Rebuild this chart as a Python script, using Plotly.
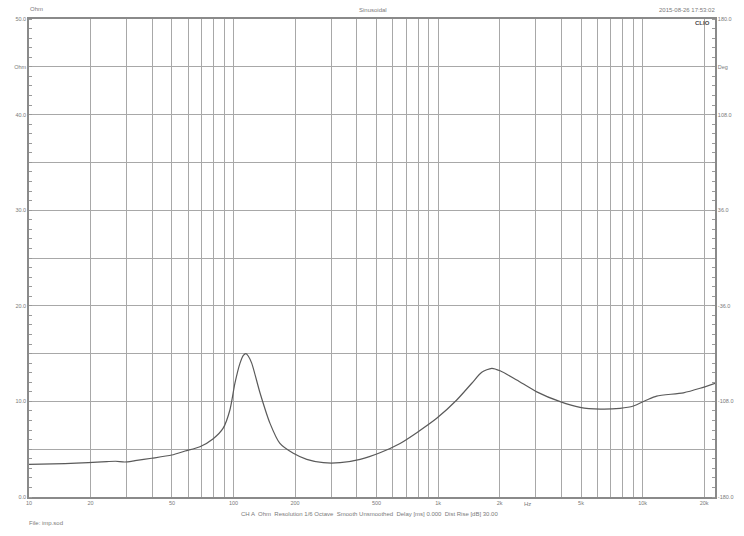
import plotly.graph_objects as go
import math

# ---- data ----
freq_hz = [10, 15, 19.5, 24, 26.5, 29.4, 33, 39.8, 49.9, 58, 68.5, 79.6, 89, 96,
           101.6, 107.6, 111.7, 115, 118, 122.7, 134.9, 150.8, 168.6, 196, 228,
           275, 332, 416, 520, 652, 787, 985, 1234, 1462, 1636, 1832, 2011, 2425,
           3039, 3955, 4947, 6195, 7757, 9021, 10480, 11720, 15840, 19110, 22640]
impedance_ohm = [3.42, 3.5, 3.59, 3.7, 3.74, 3.66, 3.8, 4.05, 4.39, 4.81, 5.26, 6.1,
                 7.2, 9.1, 11.9, 14.0, 14.82, 15.0, 14.75, 14.0, 10.85, 7.7, 5.6,
                 4.57, 3.94, 3.59, 3.59, 3.94, 4.63, 5.6, 6.73, 8.23, 10.15, 11.9,
                 13.04, 13.46, 13.2, 12.24, 11.0, 9.97, 9.38, 9.2, 9.28, 9.52,
                 10.15, 10.56, 10.9, 11.37, 11.9]

x_grid_vals = [10, 20, 30, 40, 50, 60, 70, 80, 90,
               100, 200, 300, 400, 500, 600, 700, 800, 900,
               1000, 2000, 3000, 4000, 5000, 6000, 7000, 8000, 9000,
               10000, 20000]
x_grid_text = ["10", "20", "", "", "50", "", "", "", "",
               "100", "200", "", "", "500", "", "", "", "",
               "1k", "2k", "", "", "5k", "", "", "", "",
               "10k", "20k"]

y_left_vals = [0, 5, 10, 15, 20, 25, 30, 35, 40, 45, 50]
y_left_text = ["0.0", "", "10.0", "", "20.0", "", "30.0", "", "40.0", "Ohm", "50.0"]

y_right_vals = [-180, -144, -108, -72, -36, 0, 36, 72, 108, 144, 180]
y_right_text = ["-180.0", "", "-108.0", "", "-36.0", "", "36.0", "", "108.0", "Deg", "180.0"]

x_range_hz = [10, 22600]

header_left = "Ohm"
header_mid = "Sinusoidal"
header_right = "2015-08-26 17:53:02"
footer_info = ("CH A  Ohm  Resolution 1/6 Octave  Smooth Unsmoothed  "
               "Delay [ms] 0.000  Dist Rise [dB] 30.00")
footer_file = "File: imp.sod"

# ---- style ----
TXT = "#7a7a7a"
GRID = "#a8a8a8"
FONT = "Liberation Sans, Arial, sans-serif"

fig = go.Figure()
fig.add_trace(go.Scatter(
    x=freq_hz, y=impedance_ohm, mode="lines",
    line=dict(color="#5a5a5a", width=1.2, shape="spline", smoothing=0.7),
    hoverinfo="x+y", showlegend=False))
# empty trace to register the phase (right) axis
fig.add_trace(go.Scatter(x=[], y=[], yaxis="y2", showlegend=False, hoverinfo="skip"))

fig.update_layout(
    width=744, height=536,
    margin=dict(l=29, r=29, t=19, b=39, pad=0, autoexpand=False),
    paper_bgcolor="white", plot_bgcolor="white",
    font=dict(family=FONT, size=6, color=TXT),
    xaxis=dict(
        type="log", range=[math.log10(x_range_hz[0]), math.log10(x_range_hz[1])],
        tickmode="array", tickvals=x_grid_vals, ticktext=x_grid_text,
        showgrid=True, gridcolor=GRID, gridwidth=1, automargin=False,
        showline=True, linecolor="#8a8a8a", linewidth=1.5, mirror=True,
        ticks="", tickfont=dict(size=5.5, color=TXT), zeroline=False,
    ),
    yaxis=dict(
        range=[0, 50], tickmode="array", tickvals=y_left_vals, ticktext=y_left_text,
        showgrid=True, gridcolor=GRID, gridwidth=1, automargin=False,
        showline=True, linecolor="#8a8a8a", linewidth=1.5, mirror=True,
        ticks="", tickfont=dict(size=5.5, color=TXT), zeroline=False,
        minor=dict(tickmode="linear", tick0=0, dtick=1, ticks="inside",
                   ticklen=3, tickcolor="#9a9a9a", showgrid=False),
    ),
    yaxis2=dict(
        overlaying="y", side="right", range=[-180, 180], automargin=False,
        tickmode="array", tickvals=y_right_vals, ticktext=y_right_text,
        showgrid=False, showline=True, linecolor="#8a8a8a", linewidth=1.5,
        ticks="", tickfont=dict(size=5.5, color=TXT), zeroline=False,
        minor=dict(tickmode="linear", tick0=-180, dtick=7.2, ticks="inside",
                   ticklen=3, tickcolor="#9a9a9a", showgrid=False),
    ),
)

def px_x(px):
    return (px - 29) / 686.0

def px_y(py):
    return (497 - py) / 478.0

anns = [
    dict(text=header_left, x=px_x(28), y=px_y(9), xanchor="left"),
    dict(text=header_mid, x=px_x(373), y=px_y(10), xanchor="center"),
    dict(text=header_right, x=px_x(717), y=px_y(10), xanchor="right"),
    dict(text="<b>CLIO</b>", x=px_x(712), y=px_y(23), xanchor="right",
         font=dict(size=6, color="#4a4a4a", family=FONT)),
    dict(text="Hz", x=px_x(527), y=px_y(504), xanchor="center"),
    dict(text=footer_info, x=px_x(369), y=px_y(514), xanchor="center"),
    dict(text=footer_file, x=px_x(27), y=px_y(523), xanchor="left"),
]
for a in anns:
    a.update(xref="paper", yref="paper", yanchor="middle", showarrow=False)
    a.setdefault("font", dict(size=6, color=TXT, family=FONT))
    fig.add_annotation(**a)

fig.write_html("out.html",
               config={"displayModeBar": False},
               post_script="document.body.style.margin='0px';")
